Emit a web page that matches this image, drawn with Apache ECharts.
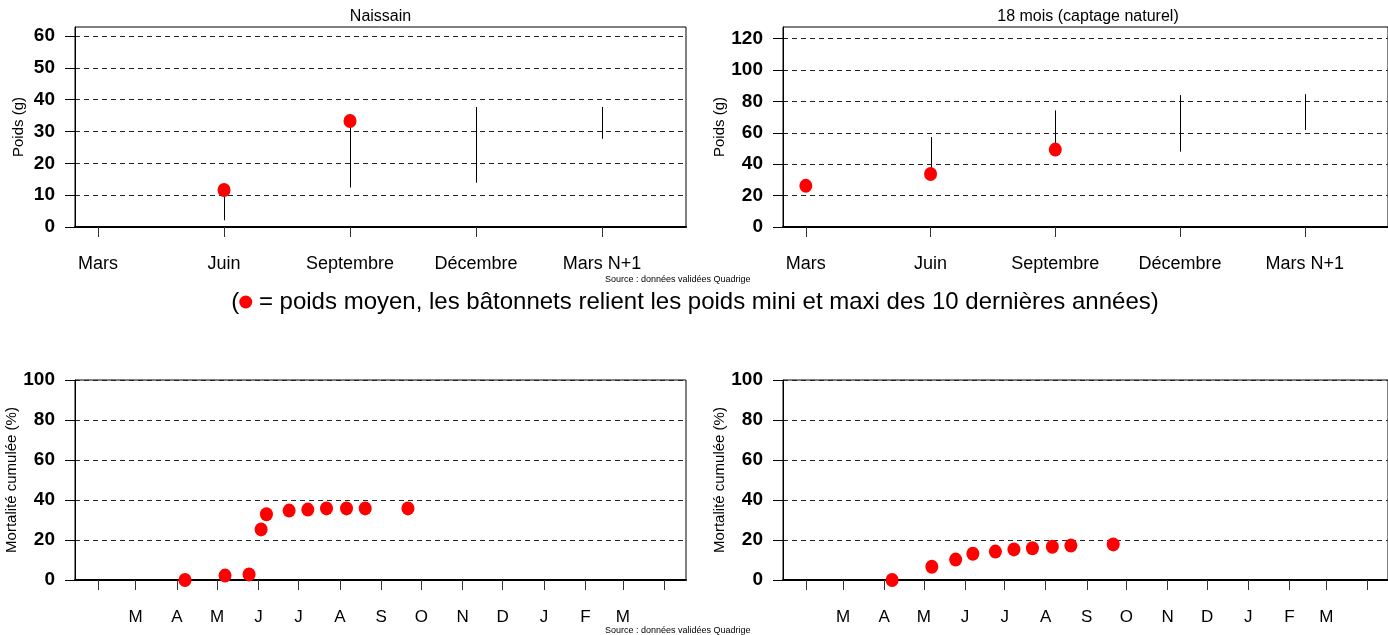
<!DOCTYPE html>
<html><head><meta charset="utf-8">
<script src="https://cdn.jsdelivr.net/npm/echarts@6/dist/echarts.min.js"></script>
<style>html,body{margin:0;padding:0;background:#fff}#c{width:1388px;height:635px}</style>
</head><body><div id="c"></div>
<script>
// ---------- data ----------
const topCats = ['Mars', 'Juin', 'Septembre', 'Décembre', 'Mars N+1'];
const naissainMean = [null, 11.6, 33.3, null, null];
const naissainMin  = [null, 2.1, 12.4, 13.9, 27.7];
const naissainMax  = [null, 12.0, 33.5, 37.7, 37.7];
const adulteMean = [26.2, 33.8, 49.3, null, null];
const adulteMin  = [null, 33.8, 49.3, 48.0, 61.8];
const adulteMax  = [null, 57.3, 74.3, 84.0, 84.6];
const naissainYTicks = [0, 10, 20, 30, 40, 50, 60];
const adulteYTicks = [0, 20, 40, 60, 80, 100, 120];

const mortNaissainDates = ['2022-04-07', '2022-05-07', '2022-05-25', '2022-06-03', '2022-06-07', '2022-06-24', '2022-07-08', '2022-07-22', '2022-08-06', '2022-08-20', '2022-09-21'];
const mortNaissain = [0, 2.2, 2.8, 25.3, 32.9, 34.7, 35.2, 35.8, 35.8, 35.8, 35.8];
const mortAdulteDates = ['2022-04-07', '2022-05-07', '2022-05-25', '2022-06-07', '2022-06-24', '2022-07-08', '2022-07-22', '2022-08-06', '2022-08-20', '2022-09-21'];
const mortAdulte = [0, 6.6, 10.2, 13.1, 14.2, 15.3, 15.9, 16.6, 17.2, 17.8];
const monthTickDates = ['2022-02-01', '2022-03-01', '2022-04-01', '2022-05-01', '2022-06-01', '2022-07-01', '2022-08-01', '2022-09-01', '2022-10-01', '2022-11-01', '2022-12-01', '2023-01-01', '2023-02-01', '2023-03-01', '2023-04-01'];
const monthLabelDates = ['2022-03-01', '2022-04-01', '2022-05-01', '2022-06-01', '2022-07-01', '2022-08-01', '2022-09-01', '2022-10-01', '2022-11-01', '2022-12-01', '2023-01-01', '2023-02-01', '2023-03-01'];
const monthLabels = ['M', 'A', 'M', 'J', 'J', 'A', 'S', 'O', 'N', 'D', 'J', 'F', 'M'];
const mortYTicks = [0, 20, 40, 60, 80, 100];

// ---------- helpers ----------
const BASE = Date.UTC(2022, 0, 1);
function dayOf(s) { const p = s.split('-').map(Number); return (Date.UTC(p[0], p[1] - 1, p[2]) - BASE) / 86400000; }
const FONT = "'Liberation Sans', Arial, sans-serif";
const idx = topCats.map((c, i) => i);
const monthTickDays = monthTickDates.map(dayOf);
const monthLabelDays = monthLabelDates.map(dayOf);
const labelByDay = {}; monthLabelDays.forEach((d, i) => labelByDay[d] = monthLabels[i]);

function gridDef(left, top, width) {
  return { left: left, top: top, width: width, height: 200, show: true, borderColor: '#000', borderWidth: 1, containLabel: false };
}
const split = { show: true, lineStyle: { color: '#222', type: [5, 4], width: 1 } };
function yAxis(gi, max, interval, ticks, name) {
  return {
    type: 'value', gridIndex: gi, min: 0, max: max, interval: interval,
    axisLine: { show: true, onZero: false, lineStyle: { color: '#000', width: 1 } },
    axisTick: { show: true, length: 10, customValues: ticks, lineStyle: { color: '#000' } },
    axisLabel: { customValues: ticks, margin: 20, color: '#000', fontSize: 19, fontWeight: 'bold', fontFamily: FONT },
    splitLine: split,
    name: name, nameLocation: 'middle', nameGap: 49, nameRotate: 90,
    nameTextStyle: { fontSize: 15, color: '#000', fontFamily: FONT }
  };
}
function xTopAxis(gi) {
  return {
    type: 'value', gridIndex: gi, min: -0.183, max: 4.667,
    axisLine: { show: true, onZero: false, lineStyle: { color: '#000', width: 2 } },
    axisTick: { show: true, length: 10, customValues: idx, lineStyle: { color: '#333' } },
    axisLabel: { customValues: idx, margin: 28, color: '#000', fontSize: 18, fontFamily: FONT, formatter: v => topCats[v] },
    splitLine: { show: false }
  };
}
function xBotAxis(gi, max) {
  return {
    type: 'value', gridIndex: gi, min: 13.6, max: max,
    axisLine: { show: true, onZero: false, lineStyle: { color: '#000', width: 2 } },
    axisTick: { show: true, length: 10, customValues: monthTickDays, lineStyle: { color: '#333' } },
    axisLabel: { customValues: monthLabelDays, margin: 29, color: '#000', fontSize: 17, fontFamily: FONT, formatter: v => labelByDay[v] || '' },
    splitLine: { show: false }
  };
}
function sticks(gi, mins, maxs) {
  const data = [];
  mins.forEach((m, i) => { if (m != null && maxs[i] != null) data.push([i, m, maxs[i]]); });
  return {
    type: 'custom', xAxisIndex: gi, yAxisIndex: gi, data: data, encode: { x: 0, y: [1, 2] }, z: 3,
    renderItem: (params, api) => {
      const p1 = api.coord([api.value(0), api.value(1)]);
      const p2 = api.coord([api.value(0), api.value(2)]);
      const x = Math.round(p1[0]) + 0.5;
      return { type: 'line', shape: { x1: x, y1: p1[1], x2: x, y2: p2[1] }, style: { stroke: '#000', lineWidth: 1 } };
    }
  };
}
function dots(gi, data) {
  return { type: 'scatter', xAxisIndex: gi, yAxisIndex: gi, data: data, symbol: 'circle', symbolSize: [13, 14], itemStyle: { color: '#ff0000', opacity: 1 }, z: 4, clip: false, silent: true };
}

const option = {
  animation: false,
  backgroundColor: '#fff',
  grid: [gridDef(75, 27, 611), gridDef(783, 27, 610), gridDef(75, 380, 611), gridDef(783, 380, 610)],
  xAxis: [xTopAxis(0), xTopAxis(1), xBotAxis(2, 471.3), xBotAxis(3, 470.5)],
  yAxis: [
    yAxis(0, 62.8, 10, naissainYTicks, 'Poids (g)'),
    yAxis(1, 127.4, 20, adulteYTicks, 'Poids (g)'),
    yAxis(2, 100, 20, mortYTicks, 'Mortalité cumulée (%)'),
    yAxis(3, 100, 20, mortYTicks, 'Mortalité cumulée (%)')
  ],
  series: [
    sticks(0, naissainMin, naissainMax),
    dots(0, naissainMean.map((v, i) => v == null ? null : [i, v]).filter(d => d)),
    sticks(1, adulteMin, adulteMax),
    dots(1, adulteMean.map((v, i) => v == null ? null : [i, v]).filter(d => d)),
    dots(2, mortNaissainDates.map((d, i) => [dayOf(d), mortNaissain[i]])),
    dots(3, mortAdulteDates.map((d, i) => [dayOf(d), mortAdulte[i]]))
  ],
  graphic: [
    { type: 'text', x: 380.5, y: 17, style: { text: 'Naissain', font: '16px ' + FONT, fill: '#000', align: 'center', verticalAlign: 'middle' } },
    { type: 'text', x: 1088, y: 17, style: { text: '18 mois (captage naturel)', font: '16px ' + FONT, fill: '#000', align: 'center', verticalAlign: 'middle' } },
    { type: 'text', x: 605, y: 280, style: { text: 'Source : données validées Quadrige', font: '9px ' + FONT, fill: '#000', align: 'left', verticalAlign: 'middle' } },
    { type: 'text', x: 605, y: 631, style: { text: 'Source : données validées Quadrige', font: '9px ' + FONT, fill: '#000', align: 'left', verticalAlign: 'middle' } },
    { type: 'text', x: 695, y: 302, style: {
        text: '({d|} = poids moyen, les bâtonnets relient les poids mini et maxi des 10 dernières années)',
        font: '24px ' + FONT, fill: '#000', align: 'center', verticalAlign: 'middle',
        rich: { d: { width: 13, height: 13, backgroundColor: '#ff0000', borderRadius: 6.5 } }
      } }
  ]
};
const chart = echarts.init(document.getElementById('c'), null, { renderer: 'canvas' });
chart.setOption(option);
</script></body></html>
